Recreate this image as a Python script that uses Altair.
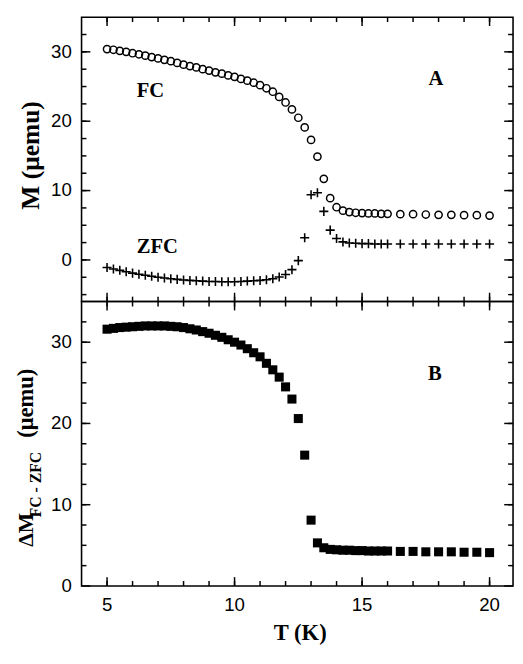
import altair as alt
import pandas as pd

# ---------------- data ----------------
T = [5.0, 5.25, 5.5, 5.75, 6.0, 6.25, 6.5, 6.75, 7.0, 7.25, 7.5, 7.75,
     8.0, 8.25, 8.5, 8.75, 9.0, 9.25, 9.5, 9.75, 10.0, 10.25, 10.5, 10.75,
     11.0, 11.25, 11.5, 11.75, 12.0, 12.25, 12.5, 12.75, 13.0, 13.25, 13.5, 13.75,
     14.0, 14.25, 14.5, 14.75, 15.0, 15.25, 15.5, 15.75, 16.0,
     16.5, 17.0, 17.5, 18.0, 18.5, 19.0, 19.5, 20.0]

FC = [30.4, 30.3, 30.15, 30.0, 29.8, 29.65, 29.45, 29.25, 29.05, 28.85, 28.65, 28.4,
      28.15, 27.95, 27.75, 27.5, 27.3, 27.05, 26.85, 26.6, 26.4, 26.1, 25.85, 25.55,
      25.2, 24.75, 24.25, 23.5, 22.7, 21.7, 20.5, 19.1, 17.3, 14.9, 11.7, 8.9,
      7.6, 7.1, 6.9, 6.8, 6.75, 6.7, 6.7, 6.65, 6.65,
      6.6, 6.6, 6.55, 6.5, 6.5, 6.45, 6.45, 6.4]

ZFC = [-1.1, -1.3, -1.5, -1.7, -1.9, -2.05, -2.2, -2.35, -2.5, -2.6, -2.7, -2.8,
       -2.9, -2.95, -3.0, -3.05, -3.1, -3.1, -3.15, -3.15, -3.15, -3.1, -3.05, -3.0,
       -2.95, -2.85, -2.7, -2.45, -2.1, -1.4, -0.1, 3.2, 9.4, 9.7, 7.0, 4.3,
       3.1, 2.6, 2.45, 2.4, 2.35, 2.35, 2.3, 2.3, 2.3,
       2.3, 2.3, 2.3, 2.3, 2.3, 2.3, 2.3, 2.3]

DM = [31.6, 31.7, 31.8, 31.85, 31.9, 31.95, 32.0, 32.0, 32.0, 32.0, 31.95, 31.9,
      31.8, 31.65, 31.5, 31.3, 31.1, 30.85, 30.6, 30.3, 30.0, 29.65, 29.2, 28.7,
      28.2, 27.4, 26.6, 25.7, 24.5, 23.0, 20.6, 16.1, 8.1, 5.3, 4.7, 4.5,
      4.45, 4.4, 4.4, 4.35, 4.35, 4.3, 4.3, 4.3, 4.3,
      4.25, 4.25, 4.2, 4.2, 4.2, 4.15, 4.15, 4.1]

x_major = [5, 10, 15, 20]
x_labels = ["5", "10", "15", "20"]
x_minor = [5, 6, 7, 8, 9, 10, 11, 12, 13, 14, 15, 16, 17, 18, 19, 20]
y_major = [0, 10, 20, 30]
y_labels = ["0", "10", "20", "30"]
y_top_minor = [-5, -2.5, 0, 2.5, 5, 7.5, 10, 12.5, 15, 17.5, 20, 22.5, 25, 27.5, 30, 32.5]
y_bot_minor = [2.5, 5, 7.5, 10, 12.5, 15, 17.5, 20, 22.5, 25, 27.5, 30, 32.5]

ann_top_label = ["FC", "ZFC", "A"]
ann_top_T = [6.7, 6.97, 17.9]
ann_top_M = [24.4, 1.9, 26.0]
ann_bot_label = ["B"]
ann_bot_T = [17.85]
ann_bot_M = [26.1]

x_title = "T (K)"
y_top_title = "M (μemu)"
y_bot_title = ["ΔM", "FC - ZFC", "(μemu)"]

# ---------------- styling ----------------
SANS = "Liberation Sans"
SERIF = "Liberation Serif"
W, H = 440, 290
MAJ, MIN = 9, 5

xs = alt.Scale(domain=[4, 20.92], nice=False, zero=False)
ys_top = alt.Scale(domain=[-6, 35], nice=False, zero=False)
ys_bot = alt.Scale(domain=[0, 35], nice=False, zero=False)


def xticks(vals, y0, y1):
    return alt.Chart(pd.DataFrame({"v": vals})).mark_rule(
        color="black", strokeWidth=1.5).encode(
        x=alt.X("v:Q", scale=xs, axis=None), y=alt.value(y0), y2=alt.value(y1))


def yticks(vals, ys, x0, x1):
    return alt.Chart(pd.DataFrame({"v": vals})).mark_rule(
        color="black", strokeWidth=1.5).encode(
        y=alt.Y("v:Q", scale=ys, axis=None), x=alt.value(x0), x2=alt.value(x1))


def frame_ticks(ys, ymin):
    return [
        xticks(x_major, H, H - MAJ), xticks(x_minor, H, H - MIN),
        xticks(x_major, 0, MAJ), xticks(x_minor, 0, MIN),
        yticks(y_major, ys, 0, MAJ), yticks(ymin, ys, 0, MIN),
        yticks(y_major, ys, W, W - MAJ), yticks(ymin, ys, W, W - MIN),
    ]


def y_tick_labels(ys):
    return alt.Chart(pd.DataFrame({"lv": y_major, "s": y_labels})).mark_text(
        align="right", baseline="middle", font=SANS, fontSize=19, color="black"
    ).encode(y=alt.Y("lv:Q", scale=ys, axis=None), x=alt.value(-10), text="s:N")


def x_tick_labels():
    return alt.Chart(pd.DataFrame({"lv": x_major, "s": x_labels})).mark_text(
        align="center", baseline="top", font=SANS, fontSize=19, color="black"
    ).encode(x=alt.X("lv:Q", scale=xs, axis=None), y=alt.value(H + 11), text="s:N")


def free_text(txt, px, py, fs, angle=0, align="center"):
    kw = dict(align=align, baseline="middle", font=SERIF, fontWeight="bold",
              fontSize=fs, color="black")
    if angle:
        kw["angle"] = angle
    return alt.Chart(pd.DataFrame({"s": [txt]})).mark_text(**kw).encode(
        x=alt.value(px), y=alt.value(py), text="s:N")


PLUS = "M-1,0L1,0M0,-1L0,1"

df_top = pd.DataFrame({"T": T, "FC": FC, "ZFC": ZFC})
df_bot = pd.DataFrame({"T": T, "DM": DM})
df_ann_top = pd.DataFrame({"label": ann_top_label, "T": ann_top_T, "M": ann_top_M})
df_ann_bot = pd.DataFrame({"label": ann_bot_label, "T": ann_bot_T, "M": ann_bot_M})

# ---------------- top panel ----------------
fc = alt.Chart(df_top).mark_point(
    shape="circle", filled=False, color="black", size=55, strokeWidth=1.5, opacity=1
).encode(
    x=alt.X("T:Q", scale=xs, axis=None),
    y=alt.Y("FC:Q", scale=ys_top, axis=None),
)
zfc = alt.Chart(df_top).mark_point(
    shape=PLUS, filled=False, color="black", size=85, strokeWidth=1.6, opacity=1
).encode(
    x=alt.X("T:Q", scale=xs, axis=None),
    y=alt.Y("ZFC:Q", scale=ys_top, axis=None),
)
ann_top = alt.Chart(df_ann_top).mark_text(
    font=SERIF, fontWeight="bold", fontSize=21, color="black", align="center", baseline="middle"
).encode(
    x=alt.X("T:Q", scale=xs, axis=None),
    y=alt.Y("M:Q", scale=ys_top, axis=None),
    text="label:N",
)
top = alt.layer(
    fc, zfc, ann_top, y_tick_labels(ys_top),
    free_text(y_top_title, -51, 141, 26, angle=270),
    *frame_ticks(ys_top, y_top_minor),
).properties(width=W, height=H)

# ---------------- bottom panel ----------------
sq = alt.Chart(df_bot).mark_square(
    filled=True, color="black", size=85, opacity=1
).encode(
    x=alt.X("T:Q", scale=xs, axis=None),
    y=alt.Y("DM:Q", scale=ys_bot, axis=None),
)
ann_bot = alt.Chart(df_ann_bot).mark_text(
    font=SERIF, fontWeight="bold", fontSize=21, color="black", align="center", baseline="middle"
).encode(
    x=alt.X("T:Q", scale=xs, axis=None),
    y=alt.Y("M:Q", scale=ys_bot, axis=None),
    text="label:N",
)

bottom = alt.layer(
    sq, ann_bot, y_tick_labels(ys_bot), x_tick_labels(),
    free_text(x_title, 223, H + 48, 23),
    free_text(y_bot_title[0], -57, 250, 22, angle=270, align="left"),
    free_text(y_bot_title[1], -46, 220, 16, angle=270, align="left"),
    free_text(y_bot_title[2], -56, 139, 23, angle=270, align="left"),
    *frame_ticks(ys_bot, y_bot_minor),
).properties(width=W, height=H)

chart = alt.vconcat(top, bottom, spacing=0, bounds="flush").configure_view(
    stroke="black", strokeWidth=1.6
).properties(padding={"left": 6, "top": 1, "right": 0, "bottom": 0})

chart.save("out.html", embed_options={"renderer": "svg", "actions": False})
